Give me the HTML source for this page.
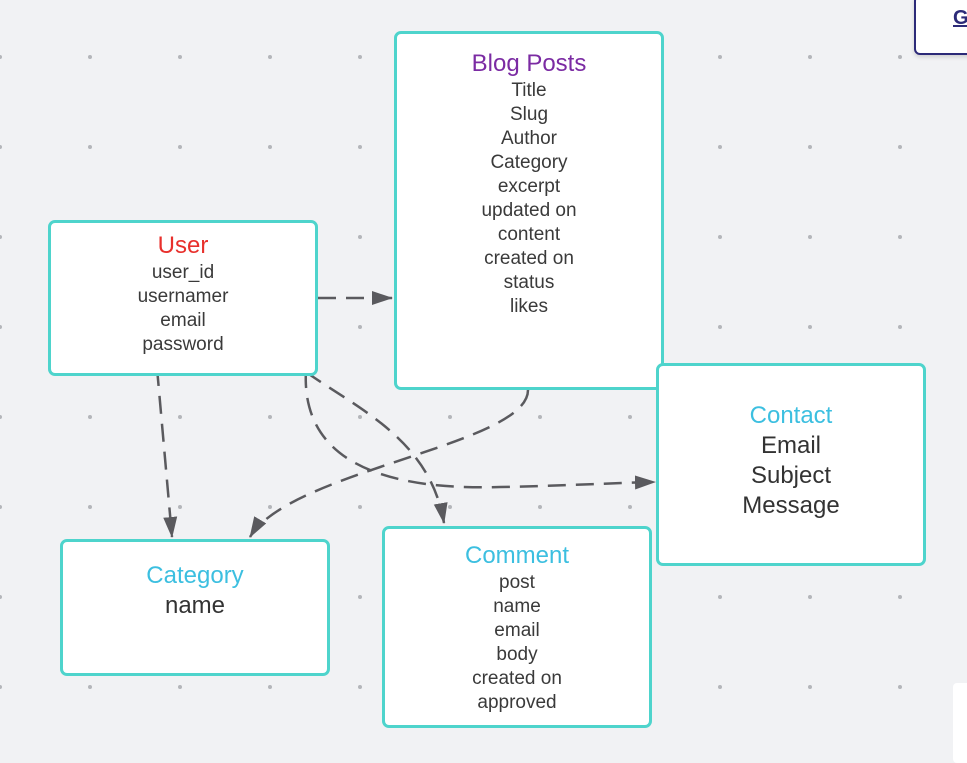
<!DOCTYPE html>
<html><head><style>
body{margin:0;width:967px;height:755px;overflow:hidden;background:#f1f2f4;font-family:"Liberation Sans",sans-serif;position:relative}
.b{position:absolute;background:#fff;border:3px solid #4ed4cc;border-radius:7px;box-sizing:border-box;text-align:center;color:#3a3a3a;font-size:19px;line-height:24px}
.t{font-size:24px;line-height:30px}
.big{font-size:24px;line-height:30px;color:#333}
</style></head><body>
<svg width="967" height="755" style="position:absolute;left:0;top:0">
<defs><pattern id="d" x="0" y="57" width="90" height="90" patternUnits="userSpaceOnUse"><circle cx="0" cy="0" r="2" fill="#b4b6ba"/><circle cx="90" cy="0" r="2" fill="#b4b6ba"/><circle cx="0" cy="90" r="2" fill="#b4b6ba"/><circle cx="90" cy="90" r="2" fill="#b4b6ba"/></pattern>
<marker id="a2" markerWidth="24" markerHeight="18" refX="20" refY="8" orient="auto" markerUnits="userSpaceOnUse"><path d="M0,1 L21,8 L0,15 z" fill="#5a5a5e"/></marker></defs>
<rect width="967" height="755" fill="url(#d)"/>
<g fill="none" stroke="#5a5a5e" stroke-width="2.5" stroke-dasharray="18,10">
<path d="M318,298 L392,298" marker-end="url(#a2)"/>
<path d="M157,368 L172,537" marker-end="url(#a2)"/>
<path d="M528,390 C528,445 290,470 250,537" marker-end="url(#a2)"/>
<path d="M306,370 C300,470 400,490 500,487 C560,486 610,483 655,482" marker-end="url(#a2)"/>
<path d="M306,372 C360,410 430,440 444,523" marker-end="url(#a2)"/>
</g>
</svg>
<div class="b" style="left:48px;top:220px;width:270px;height:156px;padding-top:8px"><div class="t" style="color:#e8302c">User</div>user_id<br>usernamer<br>email<br>password</div>
<div class="b" style="left:394px;top:31px;width:270px;height:359px;padding-top:15px"><div class="t" style="color:#7b2ba3">Blog Posts</div>Title<br>Slug<br>Author<br>Category<br>excerpt<br>updated on<br>content<br>created on<br>status<br>likes</div>
<div class="b" style="left:656px;top:363px;width:270px;height:203px;padding-top:35px"><div class="t" style="color:#3cbfe0">Contact</div><div class="big">Email<br>Subject<br>Message</div></div>
<div class="b" style="left:60px;top:539px;width:270px;height:137px;padding-top:19px"><div class="t" style="color:#3cbfe0">Category</div><div class="big">name</div></div>
<div class="b" style="left:382px;top:526px;width:270px;height:202px;padding-top:12px"><div class="t" style="color:#3cbfe0">Comment</div>post<br>name<br>email<br>body<br>created on<br>approved</div>
<div style="position:absolute;left:914px;top:-5px;width:70px;height:56px;background:#fff;border:2px solid #2c2a78;border-radius:6px;box-shadow:0 2px 4px rgba(0,0,0,.15)"><span style="position:absolute;left:37px;top:10px;font-size:20px;font-weight:bold;color:#2c2a78;text-decoration:underline">G</span></div>
<div style="position:absolute;left:953px;top:683px;width:20px;height:80px;background:#fff;border-radius:4px"></div>
</body></html>
